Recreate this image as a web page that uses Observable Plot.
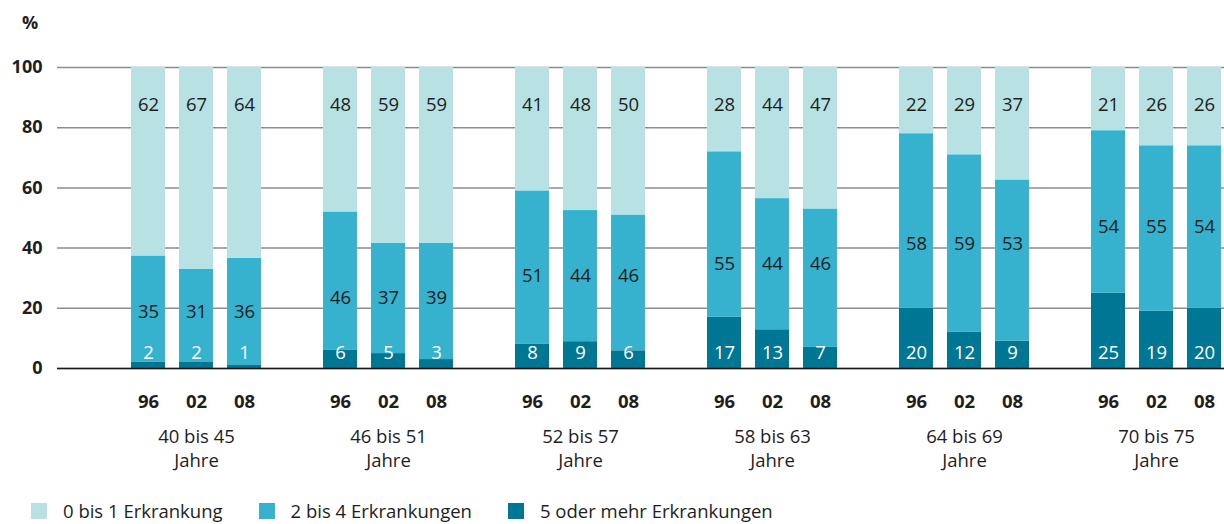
<!DOCTYPE html>
<html><head><meta charset="utf-8">
<script src="https://cdn.jsdelivr.net/npm/d3@7"></script>
<script src="https://cdn.jsdelivr.net/npm/@observablehq/plot@0.6"></script>
<style>
body{margin:0;background:#fff;font-family:"Open Sans",sans-serif;color:#1e1e1e;}
#wrap{position:relative;width:1224px;height:524px;overflow:hidden;}
#pct{position:absolute;left:22px;top:10px;font-weight:bold;font-size:18px;}
#legend{position:absolute;left:31px;top:501px;display:flex;font-size:18.5px;line-height:20px;}
.item{display:flex;align-items:center;margin-right:36px;}
.sw{width:16px;height:16px;margin-right:16px;}
</style></head>
<body>
<div id="wrap">
<div id="pct">%</div>
<div id="chart"></div>
<div id="legend"></div>
</div>
<script>
const groups = ["40 bis 45\nJahre", "46 bis 51\nJahre", "52 bis 57\nJahre", "58 bis 63\nJahre", "64 bis 69\nJahre", "70 bis 75\nJahre"];
const years = ["96", "02", "08"];
const series = ["0 bis 1 Erkrankung", "2 bis 4 Erkrankungen", "5 oder mehr Erkrankungen"];
const colors = ["#b7e1e2", "#36b2ce", "#007695"];
// values per group, years 96/02/08
const low  = [62, 67, 64, 48, 59, 59, 41, 48, 50, 28, 44, 47, 22, 29, 37, 21, 26, 26];
const mid  = [35, 31, 36, 46, 37, 39, 51, 44, 46, 55, 44, 46, 58, 59, 53, 54, 55, 54];
const high = [2, 2, 1, 6, 5, 3, 8, 9, 6, 17, 13, 7, 20, 12, 9, 25, 19, 20];
const yTicks = [0, 20, 40, 60, 80, 100];

const rows = [], bars = [], domain = [];
groups.forEach((g, gi) => {
  years.forEach((yr, j) => {
    const i = gi * 3 + j;
    const key = gi + "|" + yr;
    domain.push(key);
    const total = low[i] + mid[i] + high[i];
    const vals = [high[i], mid[i], low[i]];
    const ser = [series[2], series[1], series[0]];
    let acc = 0;
    const b = {key, gi, low: low[i], mid: mid[i], high: high[i]};
    vals.forEach((v, s) => {
      const y1 = acc * 100 / total; acc += v; const y2 = acc * 100 / total;
      rows.push({key, series: ser[s], y1, y2});
      if (s === 1) b.midC = (y1 + y2) / 2;
    });
    bars.push(b);
  });
  if (gi < groups.length - 1) domain.push("gap" + gi);
});
// mid label height: median of segment midpoints within each group
groups.forEach((g, gi) => {
  const m = d3.median(bars.filter(b => b.gi === gi), b => b.midC);
  bars.filter(b => b.gi === gi).forEach(b => b.midY = m);
});
const groupLabels = groups.map((g, gi) => ({key: gi + "|" + years[1], label: g}));

const chart = Plot.plot({
  width: 1224, height: 490,
  marginTop: 67, marginBottom: 122, marginLeft: 57, marginRight: 0,
  style: {fontFamily: "Open Sans, sans-serif", fontSize: "18px", color: "#1e1e1e"},
  x: {type: "band", domain, range: [117, 1235], padding: 0.29, label: null},
  y: {domain: [0, 100], label: null},
  color: {domain: series, range: colors},
  marks: [
    Plot.gridY(yTicks, {stroke: "#8c8c8c", strokeOpacity: 1, strokeWidth: 1.5}),
    Plot.barY(rows, {x: "key", y1: "y1", y2: "y2", fill: "series"}),
    Plot.ruleY([0], {stroke: "#1a1a1a", strokeWidth: 1.5}),
    Plot.text(bars, {x: "key", text: "low", frameAnchor: "top", dy: 30, fill: "#1e1e1e", fontSize: 18.5}),
    Plot.text(bars, {x: "key", y: "midY", text: "mid", fill: "#1e1e1e", fontSize: 18.5}),
    Plot.text(bars, {x: "key", text: "high", frameAnchor: "bottom", dy: -10, fill: "#fff", fontSize: 18.5}),
    Plot.text(groupLabels, {x: "key", text: "label", frameAnchor: "bottom", dy: 98, lineHeight: 1.25, fill: "#1e1e1e", fontSize: 18.5}),
    Plot.axisY({ticks: yTicks, tickSize: 0, tickPadding: 15, fontWeight: "bold", fontSize: 18, label: null}),
    Plot.axisX({ticks: domain.filter(k => !k.startsWith("gap")), tickFormat: k => k.split("|")[1], tickSize: 0, tickPadding: 26, fontWeight: "bold", fontSize: 18.5, label: null})
  ]
});
document.getElementById("chart").appendChild(chart);

const legend = document.getElementById("legend");
series.forEach((s, i) => {
  const it = document.createElement("div"); it.className = "item";
  const sw = document.createElement("div"); sw.className = "sw"; sw.style.background = colors[i];
  const t = document.createElement("span"); t.textContent = s;
  it.appendChild(sw); it.appendChild(t); legend.appendChild(it);
});
</script>
</body></html>
